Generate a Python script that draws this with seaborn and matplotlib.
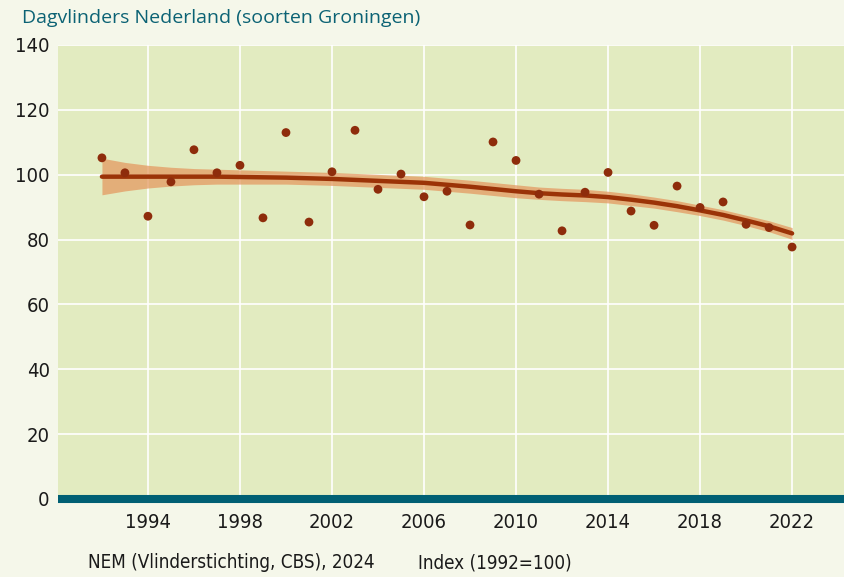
import numpy as np
import pandas as pd
import matplotlib
matplotlib.use('Agg')
import matplotlib.pyplot as plt
from matplotlib import font_manager
import seaborn as sns

years = list(range(1992, 2023))
index_values = [105.2, 100.6, 87.2, 97.8, 107.7, 100.6, 102.9, 86.7, 113.0, 85.4,
                100.9, 113.7, 95.5, 100.2, 93.2, 94.9, 84.5, 110.1, 104.4, 94.0,
                82.7, 94.6, 100.7, 88.8, 84.4, 96.5, 89.9, 91.6, 84.7, 83.7, 77.7]
trend = [99.4, 99.4, 99.4, 99.4, 99.4, 99.4, 99.3, 99.2, 99.1, 98.9,
         98.7, 98.4, 98.1, 97.8, 97.5, 96.9, 96.3, 95.6, 94.9, 94.3,
         93.9, 93.6, 93.1, 92.3, 91.4, 90.3, 89.0, 87.6, 85.9, 84.1, 81.9]
ci_low = [93.8, 95.0, 95.9, 96.5, 96.9, 97.1, 97.1, 97.1, 97.1, 96.9,
          96.7, 96.4, 96.1, 95.8, 95.5, 94.9, 94.3, 93.6, 92.9, 92.4,
          92.0, 91.7, 91.3, 90.5, 89.7, 88.6, 87.4, 86.0, 84.3, 82.4, 80.1]
ci_high = [105.1, 103.8, 102.9, 102.3, 101.9, 101.7, 101.5, 101.3, 101.1, 100.9,
           100.7, 100.4, 100.1, 99.8, 99.5, 98.9, 98.3, 97.6, 96.9, 96.2,
           95.8, 95.5, 94.9, 94.1, 93.1, 92.0, 90.6, 89.2, 87.5, 85.8, 83.7]
y_ticks = [0, 20, 40, 60, 80, 100, 120, 140]
x_ticks = [1994, 1998, 2002, 2006, 2010, 2014, 2018, 2022]

df = pd.DataFrame({'jaar': years, 'index': index_values, 'trend': trend})

sns.set_theme(style='white')
plt.rcParams['font.family'] = ['DejaVu Sans']
plt.rcParams['font.stretch'] = 'condensed'

# condensed font for numbers and footer
cond = font_manager.FontProperties(family='DejaVu Sans', stretch='condensed', size=14.5)
foot = font_manager.FontProperties(family='DejaVu Sans', stretch='condensed', size=13.5)

bg = '#f5f7ea'
plot_bg = '#e2ebc0'
teal = '#005f73'
brown = '#8e2c0b'

fig = plt.figure(figsize=(8.45, 5.77), dpi=100, facecolor=bg)
ax = fig.add_axes([58 / 845, 1 - 499 / 577, 1 - 58 / 845, (499 - 45) / 577])
ax.set_facecolor(plot_bg)

ax.fill_between(years, ci_low, ci_high, color='#e49a62', alpha=0.75, lw=0, zorder=2)
sns.lineplot(data=df, x='jaar', y='trend', ax=ax, color='#9b3307', lw=3.2, zorder=3)
sns.scatterplot(data=df, x='jaar', y='index', ax=ax, color=brown, s=40,
                edgecolor='none', zorder=4)

ax.set_xlim(1990.09, 2024.3)
ax.set_ylim(0, 140)
ax.set_xticks(x_ticks)
ax.set_yticks(y_ticks)
ax.grid(True, color='white', lw=1.2)
ax.set_axisbelow(True)
for s in ax.spines.values():
    s.set_visible(False)
ax.axhline(0, color=teal, lw=5.8, clip_on=False, zorder=5, solid_capstyle='butt')
ax.tick_params(axis='both', length=0, colors='#1a1a1a')
ax.tick_params(axis='x', pad=10)
ax.tick_params(axis='y', pad=6)
for lab in ax.get_xticklabels() + ax.get_yticklabels():
    lab.set_fontproperties(cond)
ax.set_xlabel('')
ax.set_ylabel('')

fig.text(22 / 845, 1 - 18 / 577, 'Dagvlinders Nederland (soorten Groningen)',
         color='#0b6274', fontsize=14, family=['Open Sans', 'DejaVu Sans'],
         fontstretch='normal', va='center')
fig.text(88 / 845, 1 - 563 / 577, 'NEM (Vlinderstichting, CBS), 2024',
         color='#1a1a1a', fontproperties=foot, va='center')
fig.text(418 / 845, 1 - 563 / 577, 'Index (1992=100)',
         color='#1a1a1a', fontproperties=foot, va='center')

fig.savefig('out.png', dpi=100, facecolor=bg)
